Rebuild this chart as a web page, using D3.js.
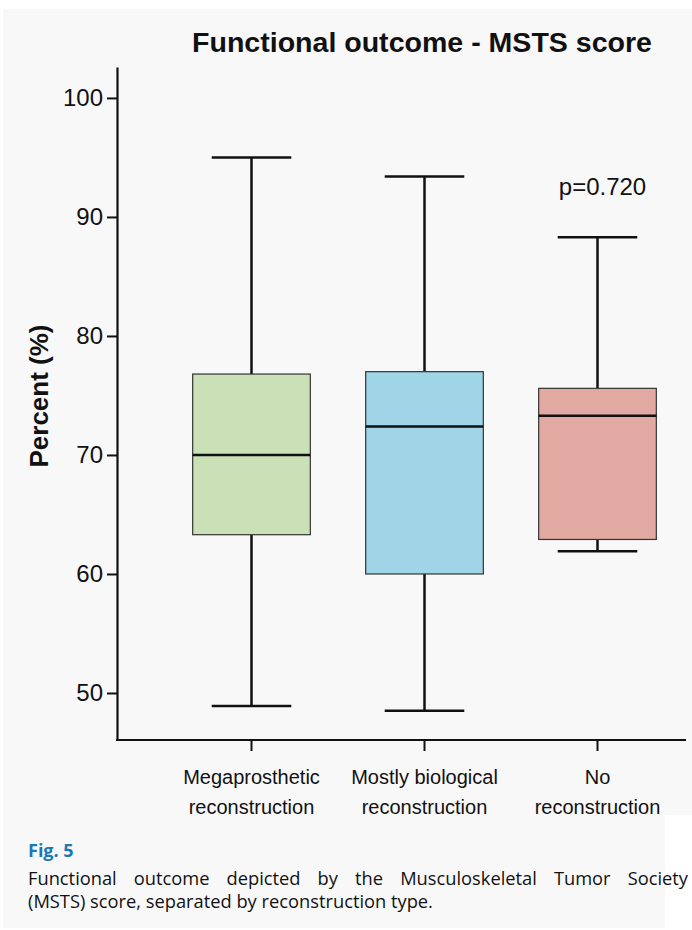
<!DOCTYPE html>
<html>
<head>
<meta charset="utf-8">
<script src="https://cdn.jsdelivr.net/npm/d3@7"></script>
<style>
  body { margin: 0; background: #fff; }
  svg { display: block; }
</style>
</head>
<body>
<div id="chart"></div>
<script>
// box plot data
const groups = ["Megaprosthetic|reconstruction", "Mostly biological|reconstruction", "No|reconstruction"];
const whiskerLow = [48.9, 48.5, 61.9];
const q1 = [63.3, 60.0, 62.9];
const median = [70.0, 72.4, 73.3];
const q3 = [76.8, 77.0, 75.6];
const whiskerHigh = [95.0, 93.4, 88.3];
const fills = ["#cae1b7", "#9fd5e6", "#e2a9a3"];
const yTicks = [50, 60, 70, 80, 90, 100];

const width = 692, height = 930;
const font = "Liberation Sans, Arial, sans-serif";

const svg = d3.select("#chart")
  .append("svg")
  .attr("width", width)
  .attr("height", height);

// grey page panels
svg.append("rect").attr("x", 3).attr("y", 9).attr("width", 689).attr("height", 806).attr("fill", "#f9f8f9");
svg.append("rect").attr("x", 3).attr("y", 815).attr("width", 662).attr("height", 113).attr("fill", "#f9f8f9");

const y = d3.scaleLinear()
  .domain([46.05, 102.6])
  .range([740, 67]);

const x = d3.scaleBand()
  .domain(groups)
  .range([165, 684])
  .padding(0);

const boxW = x.bandwidth() * 0.68;
const capW = x.bandwidth() * 0.46;
const cx = i => x(groups[i]) + x.bandwidth() / 2;

// y axis
const yAxis = svg.append("g")
  .attr("transform", "translate(117,0)")
  .call(d3.axisLeft(y).tickValues(yTicks).tickSize(10).tickSizeOuter(0).tickPadding(4));
yAxis.select(".domain").attr("stroke", "#111").attr("stroke-width", 2.2);
yAxis.selectAll(".tick line").attr("stroke", "#111").attr("stroke-width", 2);
yAxis.selectAll(".tick text")
  .attr("font-family", font)
  .attr("font-size", 24)
  .attr("fill", "#111");

// x axis
const xAxis = svg.append("g")
  .attr("transform", "translate(0,740)")
  .call(d3.axisBottom(x).tickSize(11).tickSizeOuter(0).tickFormat(""));
xAxis.select(".domain").remove();
xAxis.selectAll(".tick line").attr("stroke", "#111").attr("stroke-width", 2);
svg.append("line")
  .attr("x1", 116).attr("x2", 686)
  .attr("y1", 740).attr("y2", 740)
  .attr("stroke", "#111").attr("stroke-width", 2.2);

xAxis.selectAll(".tick").each(function(d) {
  const t = d3.select(this).append("text")
    .attr("text-anchor", "middle")
    .attr("font-family", font)
    .attr("font-size", 20)
    .attr("fill", "#111");
  d.split("|").forEach((s, k) => {
    t.append("tspan").attr("x", 0).attr("y", 44 + k * 30).text(s);
  });
});

// boxes
const box = svg.append("g").selectAll("g")
  .data(groups)
  .join("g");

box.append("line")
  .attr("x1", (d, i) => cx(i)).attr("x2", (d, i) => cx(i))
  .attr("y1", (d, i) => y(whiskerHigh[i])).attr("y2", (d, i) => y(q3[i]))
  .attr("stroke", "#111").attr("stroke-width", 2.5);
box.append("line")
  .attr("x1", (d, i) => cx(i)).attr("x2", (d, i) => cx(i))
  .attr("y1", (d, i) => y(q1[i])).attr("y2", (d, i) => y(whiskerLow[i]))
  .attr("stroke", "#111").attr("stroke-width", 2.5);
box.append("line")
  .attr("x1", (d, i) => cx(i) - capW / 2).attr("x2", (d, i) => cx(i) + capW / 2)
  .attr("y1", (d, i) => y(whiskerHigh[i])).attr("y2", (d, i) => y(whiskerHigh[i]))
  .attr("stroke", "#111").attr("stroke-width", 2.5);
box.append("line")
  .attr("x1", (d, i) => cx(i) - capW / 2).attr("x2", (d, i) => cx(i) + capW / 2)
  .attr("y1", (d, i) => y(whiskerLow[i])).attr("y2", (d, i) => y(whiskerLow[i]))
  .attr("stroke", "#111").attr("stroke-width", 2.5);
box.append("rect")
  .attr("x", (d, i) => cx(i) - boxW / 2)
  .attr("width", boxW)
  .attr("y", (d, i) => y(q3[i]))
  .attr("height", (d, i) => y(q1[i]) - y(q3[i]))
  .attr("fill", (d, i) => fills[i])
  .attr("stroke", "#333")
  .attr("stroke-width", 1.2);
box.append("line")
  .attr("x1", (d, i) => cx(i) - boxW / 2).attr("x2", (d, i) => cx(i) + boxW / 2)
  .attr("y1", (d, i) => y(median[i])).attr("y2", (d, i) => y(median[i]))
  .attr("stroke", "#111").attr("stroke-width", 2.5);

// p value
svg.append("text")
  .attr("x", cx(2) + 5).attr("y", 195)
  .attr("text-anchor", "middle")
  .attr("font-family", font)
  .attr("font-size", 24)
  .attr("fill", "#111")
  .text("p=0.720");

// title
svg.append("text")
  .attr("x", 422).attr("y", 52)
  .attr("text-anchor", "middle")
  .attr("font-family", font)
  .attr("font-weight", "bold")
  .attr("font-size", 28)
  .attr("fill", "#111")
  .attr("textLength", 460)
  .attr("lengthAdjust", "spacingAndGlyphs")
  .text("Functional outcome - MSTS score");

// y label
svg.append("text")
  .attr("transform", "translate(48,396) rotate(-90)")
  .attr("text-anchor", "middle")
  .attr("font-family", font)
  .attr("font-weight", "bold")
  .attr("font-size", 26)
  .attr("fill", "#111")
  .text("Percent (%)");

// caption
const capFont = "Open Sans, Noto Sans, sans-serif";
svg.append("text")
  .attr("x", 28).attr("y", 857)
  .attr("font-family", capFont)
  .attr("font-weight", "bold")
  .attr("font-size", 18)
  .attr("fill", "#1a78b4")
  .text("Fig. 5");
const line1 = svg.append("text")
  .attr("x", 28).attr("y", 885)
  .attr("font-family", capFont)
  .attr("font-size", 18.3)
  .attr("fill", "#111")
  .text("Functional outcome depicted by the Musculoskeletal Tumor Society");
// justify the first line by spreading the word gaps
const natural = line1.node().getComputedTextLength();
const gaps = line1.text().split(" ").length - 1;
line1.attr("word-spacing", Math.max(0, (660 - natural) / gaps));
svg.append("text")
  .attr("x", 28).attr("y", 908)
  .attr("font-family", capFont)
  .attr("font-size", 18.3)
  .attr("fill", "#111")
  .text("(MSTS) score, separated by reconstruction type.");
</script>
</body>
</html>
